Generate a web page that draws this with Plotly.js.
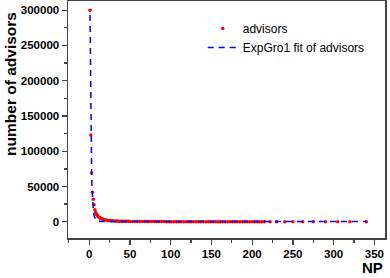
<!DOCTYPE html>
<html>
<head>
<meta charset="utf-8">
<script src="https://cdn.plot.ly/plotly-3.0.1.min.js"></script>
<style>html,body{margin:0;padding:0;background:#fff;}#chart{width:390px;height:278px;}</style>
</head>
<body>
<div id="chart"></div>
<script>
// advisors data (NP vs number of advisors)
const npData = [1,2,3,4,5,6,7,8,9,10,11,12,13,14,15,16,17,18,19,20,22,24,26,28,30,32,34,36,38,40,42,44,46,48,50,53,56,59,62,65,68,71,74,77,80,83,86,89,92,95,98,101,104,107,110,113,116,119,122,125,128,131,134,137,140,143,146,149,152,155,158,161,164,167,170,173,176,179,182,185,188,191,194,197,200,203,206,209,212,215,222,230,240,250,262,275,290,305,320,340];
const advisors = [300000,123000,69000,42000,32000,24000,17000,13000,10500,8800,7500,6500,5700,5000,4400,3900,3500,3100,2800,2500,2100,1800,1600,1400,1250,1100,1000,900,820,750,700,650,610,570,540,500,460,430,400,375,350,330,310,290,275,260,245,232,220,210,200,190,180,172,165,158,150,145,140,134,128,124,120,116,112,108,104,100,97,94,91,88,86,84,81,79,77,75,73,71,69,67,66,64,62,61,59,58,57,55,52,49,46,43,40,37,34,31,28,25];
// ExpGro1 fit of advisors
const fitX = [1,1.5,2,2.5,3,3.5,4,4.5,5,6,7,8,9,10,12,15,20,40,100,200,340];
const fitY = [293200,205400,143800,100800,70700,49600,34850,24550,17320,8730,4530,2470,1440,970,610,510,500,500,500,500,500];

const traces = [
  {
    x: npData, y: advisors, name: 'advisors', type: 'scatter', mode: 'markers',
    marker: {color: '#ff0000', size: 3.5, line: {width: 0}}
  },
  {
    x: fitX, y: fitY, name: 'ExpGro1 fit of advisors', type: 'scatter', mode: 'lines',
    line: {color: '#0000ff', width: 1.5, dash: '6px,5px'}
  }
];

const tickFont = {family: 'Liberation Sans, Arial, sans-serif', size: 11.5, color: '#000', weight: 'bold'};
const layout = {
  width: 390, height: 278,
  margin: {l: 68, r: 5, t: 1, b: 40},
  paper_bgcolor: '#fff', plot_bgcolor: '#fff',
  showlegend: true,
  legend: {
    x: 0.425, y: 0.945, xanchor: 'left', yanchor: 'top',
    bgcolor: 'rgba(0,0,0,0)', borderwidth: 0,
    font: {family: 'Liberation Sans, Arial, sans-serif', size: 12, color: '#000'},
    tracegroupgap: 0
  },
  xaxis: {
    range: [-26, 363], tickvals: [0,50,100,150,200,250,300,350],
    ticks: 'outside', ticklen: 5, tickwidth: 1.3, tickcolor: '#444',
    showline: true, linecolor: '#444', linewidth: 1.5, mirror: true,
    showgrid: false, zeroline: false, tickfont: tickFont,
    minor: {ticks: 'outside', ticklen: 3, tickwidth: 1.3, tickcolor: '#444', dtick: 25, tick0: 25, showgrid: false}
  },
  yaxis: {
    range: [-23000, 313000], tickvals: [0,50000,100000,150000,200000,250000,300000],
    ticktext: ['0','50000','100000','150000','200000','250000','300000'],
    ticks: 'outside', ticklen: 5, tickwidth: 1.3, tickcolor: '#444',
    showline: true, linecolor: '#444', linewidth: 1.5, mirror: true,
    showgrid: false, zeroline: false, tickfont: tickFont,
    minor: {ticks: 'outside', ticklen: 3, tickwidth: 1.3, tickcolor: '#444', dtick: 25000, tick0: 25000, showgrid: false}
  },
  annotations: [
    {text: 'number of advisors', xref: 'paper', yref: 'paper', x: -0.18, y: 0.65,
     xanchor: 'center', yanchor: 'middle', textangle: -90, showarrow: false, borderpad: 0,
     font: {family: 'Liberation Sans, Arial, sans-serif', size: 15.5, color: '#000', weight: 'bold'}},
    {text: 'NP', xref: 'paper', yref: 'paper', x: 0.96, y: -0.124,
     xanchor: 'center', yanchor: 'middle', showarrow: false, borderpad: 0,
     font: {family: 'Liberation Sans, Arial, sans-serif', size: 15, color: '#000', weight: 'bold'}}
  ]
};
Plotly.newPlot('chart', traces, layout, {displayModeBar: false, staticPlot: true});
</script>
</body>
</html>
